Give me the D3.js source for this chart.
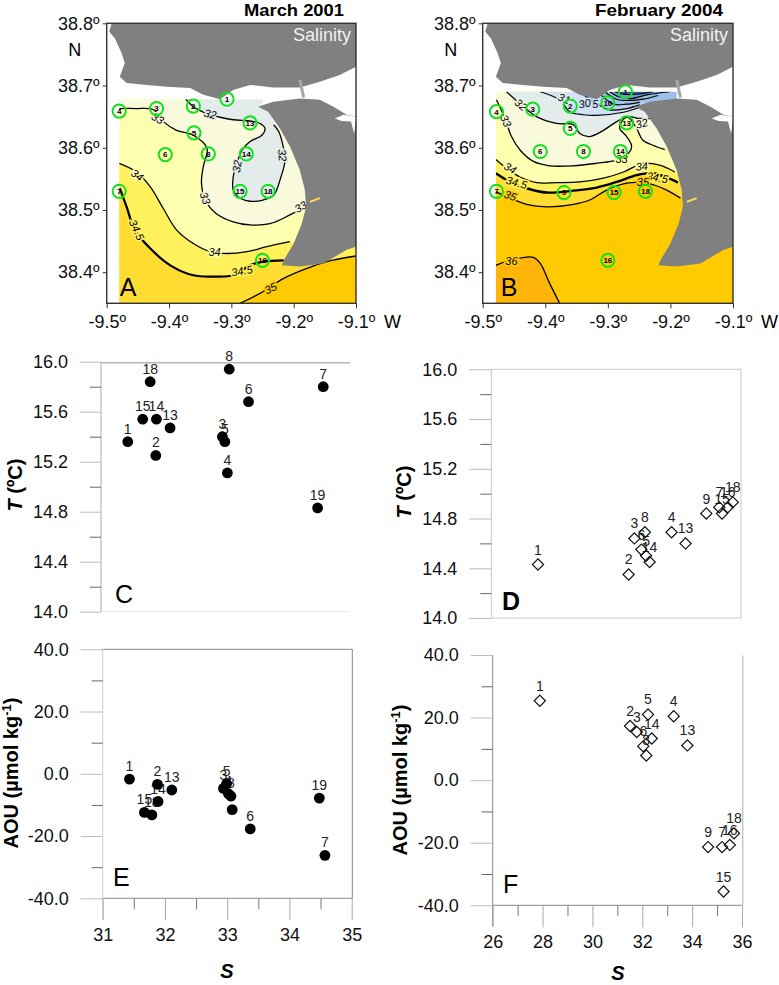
<!DOCTYPE html>
<html><head><meta charset="utf-8">
<script src="https://cdnjs.cloudflare.com/ajax/libs/d3/7.8.5/d3.min.js"></script>
<style>
html,body{margin:0;padding:0;background:#fff}
svg{display:block}
text{font-family:"Liberation Sans",Arial,sans-serif}
</style></head><body><div id="chart"></div>
<script>
// ---------- coastline (lon, lat) ----------
const northLand=[[-9.492,38.8],[-9.496,38.787],[-9.487,38.776],[-9.476,38.752],[-9.471,38.736],[-9.479,38.714],[-9.468,38.704],[-9.436,38.701],[-9.404,38.698],[-9.366,38.696],[-9.345,38.685],[-9.318,38.678],[-9.297,38.693],[-9.27,38.701],[-9.233,38.697],[-9.19,38.697],[-9.158,38.706],[-9.126,38.717],[-9.1,38.73],[-9.1,38.8]];
const southLand=[[-9.257,38.666],[-9.233,38.674],[-9.19,38.679],[-9.158,38.677],[-9.136,38.666],[-9.115,38.653],[-9.1,38.65],[-9.1,38.441],[-9.115,38.436],[-9.152,38.414],[-9.19,38.409],[-9.219,38.411],[-9.216,38.419],[-9.2,38.446],[-9.187,38.478],[-9.18,38.505],[-9.182,38.532],[-9.19,38.564],[-9.206,38.602],[-9.222,38.631],[-9.241,38.658]];
const inlet=[[-9.134,38.647],[-9.12,38.653],[-9.1,38.65],[-9.1,38.646],[-9.103,38.623],[-9.108,38.642],[-9.123,38.643]];
const bridge=[[-9.19,38.709],[-9.184,38.681]];
const sliver=[[-9.174,38.513],[-9.158,38.519]];

// ---------- March 2001 salinity ----------
const extentA=[[-9.48,38.678],[-9.25,38.678],[-9.25,38.665],[-9.2,38.665],[-9.2,38.6],[-9.1,38.6],[-9.1,38.35],[-9.48,38.35]];
const a32=[[-9.373,38.678],[-9.361,38.666],[-9.339,38.655],[-9.318,38.649],[-9.297,38.645],[-9.27,38.643],[-9.254,38.639],[-9.246,38.631],[-9.251,38.62],[-9.27,38.61],[-9.283,38.596],[-9.291,38.575],[-9.297,38.553],[-9.297,38.532],[-9.289,38.521],[-9.27,38.514],[-9.249,38.516],[-9.232,38.524],[-9.222,38.548],[-9.214,38.58],[-9.218,38.607],[-9.224,38.626],[-9.232,38.637]];
const a33=[[-9.48,38.663],[-9.452,38.663],[-9.425,38.661],[-9.409,38.642],[-9.388,38.628],[-9.361,38.62],[-9.339,38.599],[-9.345,38.57],[-9.348,38.545],[-9.342,38.516],[-9.324,38.494],[-9.297,38.481],[-9.27,38.476],[-9.238,38.478],[-9.206,38.492],[-9.182,38.505]];
const a34=[[-9.48,38.575],[-9.452,38.561],[-9.43,38.537],[-9.409,38.502],[-9.388,38.468],[-9.361,38.446],[-9.334,38.433],[-9.307,38.43],[-9.275,38.433],[-9.243,38.441],[-9.206,38.449]];
const a345=[[-9.479,38.535],[-9.468,38.505],[-9.455,38.468],[-9.43,38.438],[-9.398,38.411],[-9.361,38.395],[-9.329,38.393],[-9.297,38.395],[-9.27,38.411],[-9.249,38.417],[-9.216,38.419]];
const a35=[[-9.286,38.35],[-9.254,38.366],[-9.216,38.39],[-9.179,38.406],[-9.147,38.417],[-9.1,38.426]];
const contourLabelsA=[["32",-9.334,38.654,15,"c"],["33",-9.418,38.647,30,"p"],["34",-9.451,38.556,35,"y"],["34.5",-9.452,38.468,65,"g"],["34",-9.327,38.433,0,"y"],["34.5",-9.283,38.402,-10,"g"],["35",-9.237,38.374,-25,"o"],["33",-9.342,38.519,70,"p"],["32",-9.291,38.57,-80,"c"],["32",-9.218,38.588,85,"c"],["33",-9.189,38.505,-30,"p"]];
const stationsA=[["4",-9.48,38.659],["3",-9.42,38.663],["2",-9.361,38.667],["1",-9.307,38.678],["13",-9.27,38.64],["5",-9.36,38.624],["6",-9.406,38.589],["8",-9.337,38.59],["14",-9.276,38.59],["15",-9.286,38.53],["18",-9.241,38.53],["7",-9.48,38.53],["19",-9.25,38.419]];

// ---------- February 2004 salinity ----------
const extentB=[[-9.479,38.69],[-9.19,38.69],[-9.19,38.6],[-9.1,38.6],[-9.1,38.35],[-9.479,38.35]];
const b36=[[-9.479,38.411],[-9.456,38.419],[-9.419,38.424],[-9.408,38.414],[-9.393,38.382],[-9.377,38.35]];
const b35=[[-9.479,38.529],[-9.456,38.519],[-9.43,38.509],[-9.398,38.505],[-9.355,38.509],[-9.329,38.516],[-9.302,38.532],[-9.27,38.543],[-9.238,38.543],[-9.206,38.532],[-9.184,38.519]];
const b345=[[-9.479,38.559],[-9.456,38.545],[-9.43,38.535],[-9.398,38.528],[-9.355,38.531],[-9.318,38.536],[-9.286,38.545],[-9.254,38.556],[-9.228,38.559],[-9.196,38.548],[-9.188,38.544]];
const b34=[[-9.479,38.581],[-9.462,38.567],[-9.44,38.553],[-9.414,38.544],[-9.382,38.544],[-9.345,38.545],[-9.307,38.551],[-9.275,38.561],[-9.244,38.575],[-9.217,38.572],[-9.193,38.561]];
const b33=[[-9.478,38.677],[-9.467,38.653],[-9.463,38.643],[-9.454,38.618],[-9.44,38.596],[-9.419,38.578],[-9.393,38.571],[-9.355,38.571],[-9.318,38.575],[-9.286,38.58],[-9.27,38.588],[-9.262,38.602],[-9.27,38.618],[-9.281,38.631],[-9.278,38.642],[-9.268,38.649],[-9.254,38.631],[-9.244,38.612],[-9.228,38.604],[-9.209,38.597]];
const b32=[[-9.462,38.69],[-9.435,38.666],[-9.414,38.65],[-9.382,38.639],[-9.355,38.637],[-9.345,38.623],[-9.329,38.618],[-9.307,38.628],[-9.286,38.642],[-9.268,38.65],[-9.249,38.647],[-9.233,38.647]];
const b31=[[-9.408,38.69],[-9.377,38.677],[-9.361,38.658],[-9.339,38.653],[-9.318,38.652],[-9.275,38.657],[-9.249,38.665]];
const b30=[[-9.345,38.69],[-9.323,38.674],[-9.297,38.661],[-9.27,38.663],[-9.249,38.669]];
const b29=[[-9.313,38.687],[-9.291,38.67],[-9.27,38.67],[-9.249,38.673]];
const b28=[[-9.305,38.69],[-9.286,38.678],[-9.265,38.676],[-9.244,38.678],[-9.22,38.684]];
const b27=[[-9.297,38.69],[-9.283,38.682],[-9.262,38.679],[-9.238,38.685],[-9.201,38.69]];
const b26=[[-9.289,38.69],[-9.275,38.686],[-9.254,38.686],[-9.228,38.69]];
const contourLabelsB=[["32",-9.439,38.669,40,"p"],["33",-9.463,38.643,65,"p"],["31",-9.37,38.679,20,"c"],["30",-9.337,38.671,-10,"b"],["5",-9.32,38.67,0,"b"],["32",-9.246,38.639,-15,"p"],["33",-9.278,38.581,0,"y"],["34",-9.456,38.567,30,"y"],["34.5",-9.446,38.544,15,"g"],["35",-9.456,38.523,20,"o"],["34",-9.246,38.57,-5,"y"],["34.5",-9.221,38.552,10,"g"],["35",-9.244,38.544,0,"o"],["36",-9.454,38.418,0,"o"]];
const stationsB=[["4",-9.478,38.658],["3",-9.42,38.662],["2",-9.36,38.667],["10",-9.3,38.672],["1",-9.272,38.69],["13",-9.27,38.64],["5",-9.36,38.631],["6",-9.408,38.594],["8",-9.339,38.594],["14",-9.28,38.594],["7",-9.478,38.53],["9",-9.37,38.528],["15",-9.29,38.528],["18",-9.24,38.53],["16",-9.3,38.419]];

// ---------- scatter data ----------
const stC=["1","18","15","14","13","2","3","5","4","8","6","7","19"];
const salC=[31.43,31.79,31.67,31.89,32.11,31.88,32.95,32.99,33.03,33.06,33.37,34.57,34.48];
const tempC=[15.36,15.84,15.54,15.54,15.47,15.25,15.4,15.36,15.11,15.94,15.68,15.8,14.83];
const stD=["1","2","3","8","6","5","14","4","13","9","15","7","16","18"];
const salD=[27.87,31.5,31.73,32.15,32.01,32.2,32.34,33.22,33.78,34.61,35.24,35.13,35.47,35.67];
const tempD=[14.43,14.35,14.64,14.69,14.55,14.5,14.45,14.69,14.6,14.84,14.84,14.89,14.89,14.93];
const stE=["1","2","13","14","15","18","3","5","4","8","","6","19","7"];
const salE=[31.43,31.88,32.11,31.89,31.67,31.79,32.94,32.99,33.02,33.06,33.08,33.37,34.48,34.57];
const aouE=[-1.7,-3.4,-5.2,-8.9,-12.4,-13.2,-4.7,-3.2,-6.4,-7.2,-11.5,-17.7,-7.8,-26.2];
const stF=["1","2","3","5","14","6","8","4","13","9","7","16","18","15"];
const salF=[27.89,31.51,31.78,32.23,32.38,32.04,32.16,33.26,33.81,34.64,35.2,35.51,35.68,35.26];
const aouF=[25.4,17.3,15.4,21,13.3,10.8,7.9,20.4,11.1,-21.4,-21.4,-20.7,-17,-35.6];

// ---------- tick labels ----------
const lonTicks=[-9.5,-9.4,-9.3,-9.2,-9.1];
const latTicks=[38.8,38.7,38.6,38.5,38.4];
const tempMajor=[16,15.6,15.2,14.8,14.4,14];
const tempMinor=[15.8,15.4,15,14.6,14.2];
const aouMajor=[40,20,0,-20,-40];
const aouMinor=[30,10,-10,-30];
const salEMajor=[31,32,33,34,35];
const salEMinor=[31.5,32.5,33.5,34.5];
const salFMajor=[26,28,30,32,34,36];
const salFMinor=[27,29,31,33,35];

const bandColor={c:"#e3ecea",p:"#f9f9dc",y:"#ffffb0",g:"#fff15c",o:"#ffca00",b:"#cfe2f7"};
const svg=d3.select("#chart").append("svg").attr("width",779).attr("height",985);
const fmtDeg=d=>d3.format(".1f")(d).replace("\u2212","-")+"\u00ba";

function drawMap(id,left,right,cfg){
  const x=d3.scaleLinear().domain([-9.5,-9.1]).range([left,right]);
  const y=d3.scaleLinear().domain([38.8,38.35]).range([23.3,303.3]);
  const g=svg.append("g");
  const poly=d3.line().x(d=>x(d[0])).y(d=>y(d[1]));
  const smooth=d3.line().x(d=>x(d[0])).y(d=>y(d[1])).curve(d3.curveCatmullRom.alpha(0.5));
  g.append("clipPath").attr("id","ext"+id).append("path").attr("d",poly(cfg.extent)+"Z");
  const inner=g.append("g").attr("clip-path",`url(#ext${id})`);
  inner.append("path").attr("d",poly(cfg.extent)+"Z").attr("fill",cfg.base);
  cfg.bands.forEach(b=>{
    const tail=b.close.map(p=>`L${x(p[0])},${y(p[1])}`).join("");
    inner.append("path").attr("d",smooth(b.line)+tail+"Z").attr("fill",b.color);
  });
  cfg.lines.forEach(l=>{
    inner.append("path").attr("d",smooth(l.line)).attr("fill","none").attr("stroke","#000").attr("stroke-width",l.w);
  });
  g.selectAll(null).data(cfg.labels).join("text")
    .attr("transform",d=>`translate(${x(d[1])},${y(d[2])}) rotate(${d[3]})`)
    .attr("text-anchor","middle").attr("dy","0.35em").attr("font-size",11).attr("font-style","italic")
    .attr("fill","#000").attr("stroke",d=>bandColor[d[4]]).attr("stroke-width",3).attr("paint-order","stroke")
    .text(d=>d[0]);
  const land=g.append("g");
  [northLand,southLand].forEach(r=>land.append("path").attr("d",poly(r)+"Z").attr("fill","#808080"));
  land.append("path").attr("d",poly(inlet)+"Z").attr("fill","#fff");
  land.append("path").attr("d",poly(bridge)).attr("stroke","#a6a6a6").attr("stroke-width",3).attr("fill","none");
  land.append("path").attr("d",poly(sliver)).attr("stroke","#ffe050").attr("stroke-width",2).attr("fill","none");
  const st=g.selectAll(null).data(cfg.stations).join("g").attr("transform",d=>`translate(${x(d[1])},${y(d[2])})`);
  st.append("circle").attr("r",6.6).attr("fill","none").attr("stroke","#12e020").attr("stroke-width",2);
  st.append("text").attr("text-anchor","middle").attr("dy","0.36em").attr("font-size",8).attr("font-weight","bold").attr("fill","#000").text(d=>d[0]);
  // frame + axes
  g.append("rect").attr("x",left).attr("y",23.3).attr("width",right-left).attr("height",280).attr("fill","none").attr("stroke","#333").attr("stroke-width",1.4);
  const ax=g.append("g").attr("transform","translate(0,303.3)").call(d3.axisBottom(x).tickValues(lonTicks).tickSize(5).tickPadding(7).tickFormat(fmtDeg));
  const ay=g.append("g").attr("transform",`translate(${left},0)`).call(d3.axisLeft(y).tickValues(latTicks).tickSize(4).tickPadding(3).tickFormat(fmtDeg));
  [ax,ay].forEach(a=>{a.select(".domain").remove();a.selectAll("line").attr("stroke","#333");
    a.selectAll("text").attr("font-size",18).attr("fill","#111");});
  g.append("text").attr("x",cfg.titleX).attr("y",15.5).attr("text-anchor","middle").attr("font-size",17).attr("font-weight","bold")
    .attr("textLength",cfg.titleW).attr("lengthAdjust","spacingAndGlyphs").text(cfg.title);
  g.append("text").attr("x",right-5).attr("y",41).attr("text-anchor","end").attr("font-size",18).attr("fill","#f2f2f2").text("Salinity");
  g.append("text").attr("x",left-32).attr("y",56).attr("text-anchor","middle").attr("font-size",18).text("N");
  g.append("text").attr("x",right+45).attr("y",328).attr("text-anchor","end").attr("font-size",18).text("W");
  g.append("text").attr("x",left+cfg.letterDx).attr("y",296).attr("font-size",25).text(id);
}

drawMap("A",106.7,356,{extent:extentA,base:bandColor.y,title:"March 2001",titleX:294,titleW:100,letterDx:13,stations:stationsA,labels:contourLabelsA,
  bands:[
    {line:a33,close:[[-9.1,38.505],[-9.1,38.678],[-9.48,38.678]],color:bandColor.p},
    {line:a32,close:[[-9.22,38.678]],color:bandColor.c},
    {line:a34,close:[[-9.1,38.449],[-9.1,38.35],[-9.48,38.35]],color:bandColor.g},
    {line:a345,close:[[-9.1,38.419],[-9.1,38.35],[-9.48,38.35],[-9.48,38.535]],color:"#ffdc32"},
    {line:a35,close:[[-9.1,38.35]],color:bandColor.o}],
  lines:[{line:a32,w:1.3},{line:a33,w:1.3},{line:a34,w:1.3},{line:a345,w:2.2},{line:a35,w:1.3}]});

drawMap("B",482.7,733,{extent:extentB,base:bandColor.o,title:"February 2004",titleX:659,titleW:128,letterDx:18,stations:stationsB,labels:contourLabelsB,
  bands:[
    {line:b36,close:[[-9.479,38.35]],color:"#ffb40a"},
    {line:b35,close:[[-9.1,38.519],[-9.1,38.69],[-9.479,38.69]],color:"#ffdc32"},
    {line:b345,close:[[-9.1,38.544],[-9.1,38.69],[-9.479,38.69]],color:bandColor.g},
    {line:b34,close:[[-9.1,38.561],[-9.1,38.69],[-9.479,38.69]],color:bandColor.y},
    {line:b33,close:[[-9.1,38.597],[-9.1,38.69],[-9.478,38.69]],color:bandColor.p},
    {line:b32,close:[[-9.19,38.647],[-9.19,38.69]],color:bandColor.c},
    {line:b31,close:[[-9.19,38.665],[-9.19,38.69]],color:"#cfe2f7"},
    {line:b30,close:[[-9.19,38.669],[-9.19,38.69]],color:"#b6d2f2"},
    {line:b29,close:[[-9.19,38.673],[-9.19,38.69]],color:"#9cc0ea"},
    {line:b27,close:[[-9.19,38.69]],color:"#6f9fdc"},
    {line:b26,close:[],color:"#2f5d9c"}],
  lines:[{line:b36,w:1.3},{line:b35,w:1.3},{line:b345,w:2.4},{line:b34,w:1.3},{line:b33,w:1.3},{line:b32,w:1.3},{line:b31,w:1.2},{line:b30,w:1.2},{line:b29,w:1.2},{line:b28,w:1.2},{line:b27,w:1.2},{line:b26,w:1.2}]});

function yAxes(g,y,x0,major,minor,fmt,majorLen,minorLen){
  const a=g.append("g").attr("transform",`translate(${x0},0)`).call(d3.axisLeft(y).tickValues(major).tickSize(majorLen).tickPadding(12).tickFormat(fmt));
  a.select(".domain").remove();a.selectAll("line").attr("stroke","#bdbdbd");
  a.selectAll("text").attr("font-size",18).attr("fill","#111");
  const b=g.append("g").attr("transform",`translate(${x0},0)`).call(d3.axisLeft(y).tickValues(minor).tickSize(minorLen).tickFormat(""));
  b.select(".domain").remove();b.selectAll("line").attr("stroke","#666");
}
function xAxes(g,x,yB,major,minor){
  const a=g.append("g").attr("transform",`translate(0,${yB})`).call(d3.axisBottom(x).tickValues(major).tickSize(22).tickPadding(8).tickFormat(d3.format("d")));
  a.select(".domain").remove();a.selectAll("line").attr("stroke","#aaa");
  a.selectAll("text").attr("font-size",18).attr("fill","#111");
  const b=g.append("g").attr("transform",`translate(0,${yB})`).call(d3.axisBottom(x).tickValues(minor).tickSize(11).tickFormat(""));
  b.select(".domain").remove();b.selectAll("line").attr("stroke","#777");
}
function points(g,x,y,st,xs,ys,kind){
  const off=kind==="dot"?8:10;
  g.selectAll(null).data(st).join("text").attr("x",(d,i)=>x(xs[i])).attr("y",(d,i)=>y(ys[i])-off)
    .attr("text-anchor","middle").attr("font-size",14).attr("fill","#222").text(d=>d);
  const sym=g.selectAll(null).data(xs).join("path")
    .attr("transform",(d,i)=>`translate(${x(d)},${y(ys[i])})`);
  if(kind==="dot"){
    sym.attr("d",d3.symbol(d3.symbolCircle,Math.PI*5.4*5.4)()).attr("fill","#000");
  }else{
    sym.attr("d",d3.symbol(d3.symbolSquare,2*5.6*5.6)()).attr("transform",(d,i)=>`translate(${x(d)},${y(ys[i])}) rotate(45)`)
      .attr("fill","none").attr("stroke","#111").attr("stroke-width",1.2);
  }
}
function yTitle(cx,cy,kind){
  const t=svg.append("text").attr("transform",`translate(${cx},${cy}) rotate(-90)`).attr("text-anchor","middle").attr("font-size",20).attr("font-weight","bold");
  if(kind==="T"){
    t.append("tspan").attr("font-style","italic").text("T");
    t.append("tspan").text(" (\u00baC)");
  }else{
    t.append("tspan").text("AOU (\u00b5mol kg");
    t.append("tspan").attr("font-size",13).attr("dy",-7).text("-1");
    t.append("tspan").attr("dy",7).text(")");
  }
}
const fmt1=d=>d3.format(".1f")(d).replace("\u2212","-");

// C
{const g=svg.append("g");
 const x=d3.scaleLinear().domain([31,35]).range([101,350]);
 const y=d3.scaleLinear().domain([14,16]).range([611.7,361.7]);
 g.append("line").attr("x1",101).attr("x2",350).attr("y1",362.7).attr("y2",362.7).attr("stroke","#b5b5b5").attr("stroke-width",1.4);
 g.append("line").attr("x1",101).attr("x2",350).attr("y1",611.7).attr("y2",611.7).attr("stroke","#e6e6e6");
 g.append("line").attr("x1",101).attr("x2",101).attr("y1",361.7).attr("y2",611.7).attr("stroke","#aaa");
 yAxes(g,y,101,tempMajor,tempMinor,fmt1,21,11);
 points(g,x,y,stC,salC,tempC,"dot");
 g.append("text").attr("x",115).attr("y",603).attr("font-size",25).text("C");
 yTitle(22,485,"T");}
// D
{const g=svg.append("g");
 const x=d3.scaleLinear().domain([26,36]).range([491.3,741]);
 const y=d3.scaleLinear().domain([14,16]).range([618,369.3]);
 g.append("rect").attr("x",491.3).attr("y",369.3).attr("width",249.7).attr("height",248.7).attr("fill","none").attr("stroke","#c8c8c8");
 yAxes(g,y,491.3,tempMajor,tempMinor,fmt1,22,11);
 points(g,x,y,stD,salD,tempD,"dia");
 g.append("text").attr("x",502).attr("y",610).attr("font-size",25).attr("font-weight","bold").text("D");
 yTitle(411,492,"T");}
// E
{const g=svg.append("g");
 const x=d3.scaleLinear().domain([31,35]).range([102.7,351.7]);
 const y=d3.scaleLinear().domain([-40,40]).range([898.3,649.3]);
 g.append("path").attr("d",`M102.7,649.3H352.3V898.3H102.7`).attr("fill","none").attr("stroke","#888");
 g.append("line").attr("x1",102.7).attr("x2",102.7).attr("y1",649.3).attr("y2",920).attr("stroke","#ccc");
 yAxes(g,y,102.7,aouMajor,aouMinor,fmt1,22,11);
 xAxes(g,x,898.3,salEMajor,salEMinor);
 points(g,x,y,stE,salE,aouE,"dot");
 g.append("text").attr("x",113).attr("y",886).attr("font-size",25).text("E");
 yTitle(18,773,"A");
 svg.append("text").attr("x",227).attr("y",978).attr("text-anchor","middle").attr("font-size",20).attr("font-weight","bold").attr("font-style","italic").text("S");}
// F
{const g=svg.append("g");
 const x=d3.scaleLinear().domain([26,36]).range([492.7,742]);
 const y=d3.scaleLinear().domain([-40,40]).range([905.3,655]);
 g.append("path").attr("d","M742.7,655.5V905.3").attr("stroke","#c4c4c4").attr("fill","none").attr("stroke-width",1.4);
 g.append("line").attr("x1",492.7).attr("x2",742).attr("y1",905.3).attr("y2",905.3).attr("stroke","#888");
 g.append("line").attr("x1",492.7).attr("x2",492.7).attr("y1",655).attr("y2",926).attr("stroke","#888");
 yAxes(g,y,492.7,aouMajor,aouMinor,fmt1,22,11);
 xAxes(g,x,905.3,salFMajor,salFMinor);
 points(g,x,y,stF,salF,aouF,"dia");
 g.append("text").attr("x",503).attr("y",893).attr("font-size",25).text("F");
 yTitle(407,780,"A");
 svg.append("text").attr("x",618).attr("y",980).attr("text-anchor","middle").attr("font-size",20).attr("font-weight","bold").attr("font-style","italic").text("S");}
</script></body></html>
